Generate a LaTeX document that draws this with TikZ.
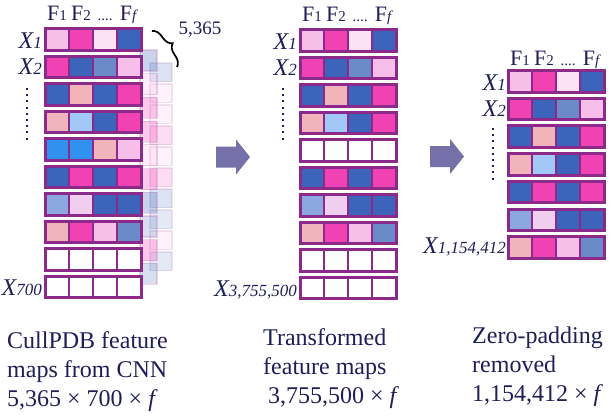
\documentclass[tikz,border=0pt]{standalone}
\usepackage{fontspec}
\setmainfont{Liberation Serif}
\usetikzlibrary{positioning,decorations.pathreplacing}

\definecolor{cellline}{RGB}{140,42,140}
\definecolor{inkblue}{RGB}{30,30,88}
\definecolor{arrowgray}{RGB}{118,112,168}
\definecolor{pl}{RGB}{248,190,234}
\definecolor{ph}{RGB}{240,66,178}
\definecolor{pv}{RGB}{252,226,244}
\definecolor{bd}{RGB}{60,100,186}
\definecolor{bm}{RGB}{106,138,200}
\definecolor{sa}{RGB}{240,180,186}
\definecolor{bl}{RGB}{162,200,248}
\definecolor{bb}{RGB}{48,146,238}
\definecolor{bml}{RGB}{140,168,224}
\definecolor{lv}{RGB}{240,206,240}
\definecolor{wh}{RGB}{255,255,255}

\tikzset{
  cell/.style={draw=cellline, line width=2.8pt, minimum width=24pt, minimum height=21.5pt,
    inner sep=0pt, outer sep=0pt, anchor=north west},
  rowframe/.style={draw=cellline, line width=3pt},
  ghost/.style={draw=cellline!70, line width=1.2pt, opacity=#1},
  colhead/.style={inkblue, font=\fontsize{22}{22}\selectfont, inner sep=0pt, anchor=base},
  rowlab/.style={inkblue, font=\fontsize{24}{24}\selectfont\itshape, inner sep=0pt, anchor=base east},
  sizelab/.style={inkblue, font=\fontsize{19}{19}\selectfont, inner sep=0pt},
  mapcaption/.style={inkblue, font=\fontsize{24}{29}\selectfont, align=left, inner sep=0pt, anchor=north west},
  flowarrow/.style={fill=arrowgray},
  vdots/.style={inkblue, line width=2pt, dash pattern=on 2pt off 4.2pt},
  braceline/.style={black, line width=1.7pt, decorate, decoration={brace, amplitude=10pt}},
}

% one row of a feature map: name, left x, top y, colours
\newcommand{\maprow}[4]{%
  \edef\rowcols{#4}%
  \foreach \c [count=\i] in \rowcols
    \node[cell, fill=\c] (#1-\i) at ({#2+24*(\i-1)},{#3+1.5}) {};
  \draw[rowframe] (#1-1.north west) rectangle (#1-4.south east);
}
\newcommand{\fsub}[1]{{\fontsize{15}{15}\selectfont #1}}
\newcommand{\xsub}[1]{{\fontsize{17}{17}\selectfont #1}}
\newcommand{\flowarr}[3]{%
  \coordinate (#1) at (#2,#3);
  \fill[flowarrow] (#1) ++(0,-10.5) -- ++(20,0) -- ++(0,-7) -- ++(14,17.5)
    -- ++(-14,17.5) -- ++(0,-7) -- ++(-20,0) -- cycle;
}

\begin{document}
\begin{tikzpicture}[x=1pt, y=-1pt]
\useasboundingbox (0,0) rectangle (613,418);

% stacked copies behind the first map
\foreach \c [count=\n] in {bd,pl,pl,ph,pl,ph,bd,bm,pl,bm}
  \draw[ghost=0.18, fill=\c] (150,{63+21*(\n-1)}) rectangle ++(22,18.5);
\foreach \c [count=\n] in {bd,pl,ph,ph,pl,ph,bd,bm,ph,bm}
  \draw[ghost=0.28, fill=\c] (140,{50+23.7*(\n-1)}) rectangle ++(17,21);

% CullPDB feature maps
\foreach \cols [count=\n] in {{pl,ph,pv,bd},{ph,bd,bm,pl},{bd,sa,bd,ph},{sa,bl,bd,ph},
    {bb,bb,sa,pl},{bd,ph,bd,ph},{bml,lv,bd,bd},{sa,ph,pl,bm},{wh,wh,wh,wh},{wh,wh,wh,wh}}
  {\maprow{L\n}{45}{27+27.5*(\n-1)}{\cols}}

% transformed feature maps
\foreach \cols [count=\n] in {{pl,ph,pv,bd},{ph,bd,bm,pl},{bd,sa,bd,ph},{sa,bl,bd,ph},
    {wh,wh,wh,wh},{bd,ph,bd,ph},{bml,lv,bd,bd},{sa,ph,pl,bm},{wh,wh,wh,wh},{wh,wh,wh,wh}}
  {\maprow{M\n}{300}{28+27.5*(\n-1)}{\cols}}

% zero-padding removed
\foreach \cols [count=\n] in {{pl,ph,pv,bd},{ph,bd,bm,pl},{bd,sa,bd,ph},{sa,bl,bd,ph},
    {bd,ph,bd,ph},{bml,lv,bd,bd},{sa,ph,pl,bm}}
  {\maprow{R\n}{508}{69+27.7*(\n-1)}{\cols}}

% column heads
\foreach \g/\dy in {L/8, M/8, R/5} {
  \node[colhead] (\g-f1) at ([yshift=\dy pt]\g1-1.north) {F\fsub{1}};
  \node[colhead] (\g-f2) at ([yshift=\dy pt]\g1-2.north) {F\fsub{2}};
  \node[colhead] (\g-fd) at ([yshift=\dy pt]\g1-3.north) {\fsub{....}};
  \node[colhead] (\g-ff) at ([yshift=\dy pt]\g1-4.north) {F\fsub{\textit{f}}};
}

% row labels
\node[rowlab] (L-x1) at ([xshift=-3pt,yshift=2pt]L1-1.south west) {X\xsub{1}};
\node[rowlab] (L-x2) at ([xshift=-3pt,yshift=3pt]L2-1.south west) {X\xsub{2}};
\node[rowlab] (L-xn) at ([xshift=-3pt,yshift=2pt]L10-1.south west) {X\xsub{700}};
\node[rowlab] (M-x1) at ([xshift=-3pt,yshift=2pt]M1-1.south west) {X\xsub{1}};
\node[rowlab] (M-x2) at ([xshift=-3pt,yshift=3pt]M2-1.south west) {X\xsub{2}};
\node[rowlab] (M-xn) at ([xshift=-3pt,yshift=2pt]M10-1.south west) {X\xsub{3,755,500}};
\node[rowlab] (R-x1) at ([xshift=-2pt,yshift=2pt]R1-1.south west) {X\xsub{1}};
\node[rowlab] (R-x2) at ([xshift=-2pt,yshift=3pt]R2-1.south west) {X\xsub{2}};
\node[rowlab] (R-xn) at ([xshift=-2pt,yshift=5pt]R7-1.south west) {X\xsub{1,154,412}};

% vertical dots
\coordinate (L-dots-a) at (27,88);
\coordinate (L-dots-b) at (27,140);
\coordinate (M-dots-a) at (283,88);
\coordinate (M-dots-b) at (283,140);
\coordinate (R-dots-a) at (493,128);
\coordinate (R-dots-b) at (493,182);
\draw[vdots] (L-dots-a) -- (L-dots-b);
\draw[vdots] (M-dots-a) -- (M-dots-b);
\draw[vdots] (R-dots-a) -- (R-dots-b);

% number of stacked maps
\coordinate (brace-a) at (152,31);
\coordinate (brace-b) at (177,67);
\draw[braceline] (brace-a) -- (brace-b);
\node[sizelab] (brace-lab) at (200,30) {5,365};

% block arrows
\flowarr{arrow-a}{216}{157}
\flowarr{arrow-b}{430}{156.5}

% captions
\node[mapcaption] (cap-l) at (7,331) {CullPDB feature\\maps from CNN\\5,365 × 700 × \textit{f}};
\node[mapcaption] (cap-m) at (263,328.6) {Transformed\\feature maps\\\hspace*{5pt}3,755,500 × \textit{f}};
\node[mapcaption] (cap-r) at (472,326.6) {Zero-padding\\removed\\1,154,412 × \textit{f}};

\end{tikzpicture}
\end{document}
